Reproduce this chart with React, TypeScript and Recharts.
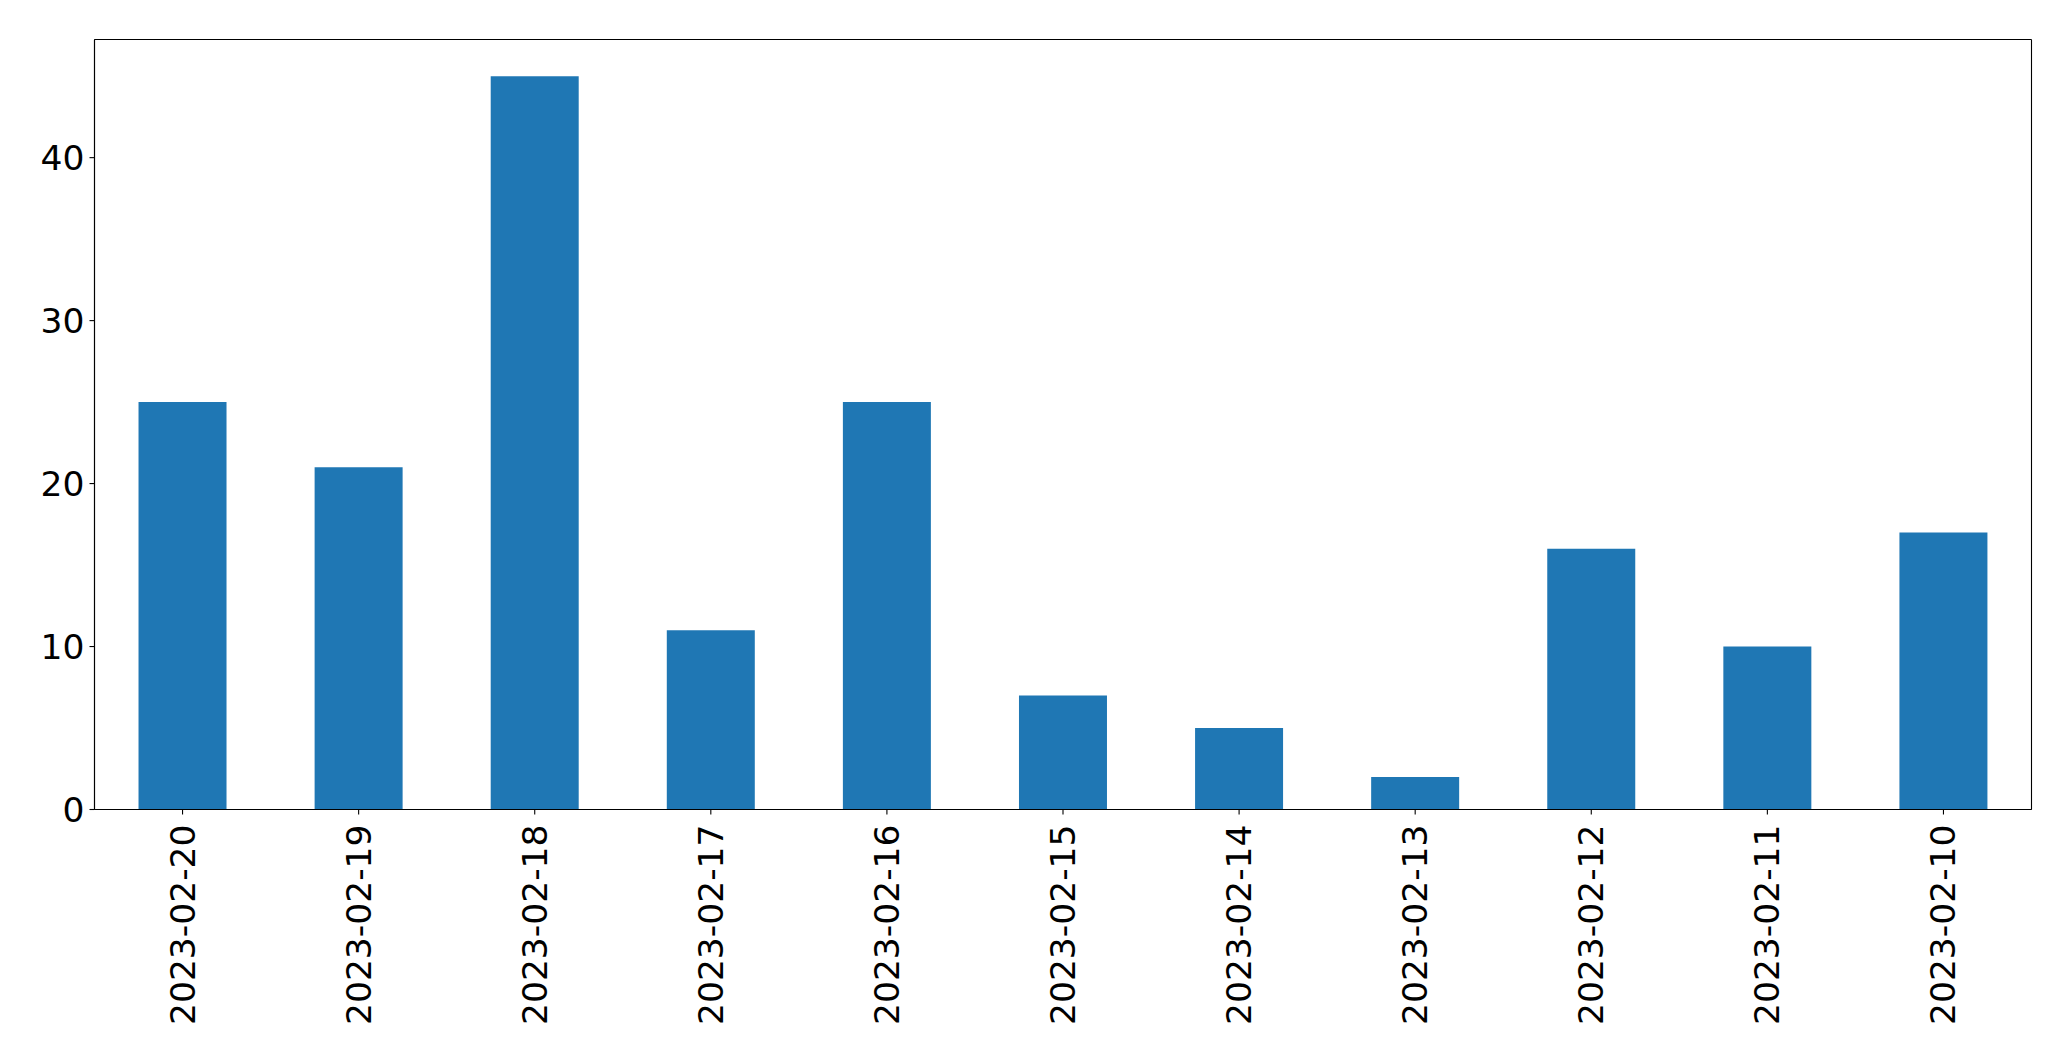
import React from "react";
import { BarChart, Bar, XAxis, YAxis, CartesianGrid } from "recharts";

const categories = [
  "2023-02-20", "2023-02-19", "2023-02-18", "2023-02-17", "2023-02-16", "2023-02-15",
  "2023-02-14", "2023-02-13", "2023-02-12", "2023-02-11", "2023-02-10",
];
const counts = [25, 21, 45, 11, 25, 7, 5, 2, 16, 10, 17];
const yTicks = [0, 10, 20, 30, 40];

const data = categories.map((c, i) => ({ date: c, count: counts[i] }));

const FONT = "DejaVu Sans";
const FS = 34.5;

const XTick = (props: any) => {
  const { x, y, payload } = props;
  return (
    <text
      x={0}
      y={0}
      transform={`translate(${x},${y + 8}) rotate(-90)`}
      textAnchor="end"
      dominantBaseline="central"
      fontFamily={FONT}
      fontSize={FS}
      fill="#000"
    >
      {payload.value}
    </text>
  );
};

const hFrame = (p: any) => {
  const o = p.offset;
  return [o.top, o.top + o.height];
};
const vFrame = (p: any) => {
  const o = p.offset;
  return [o.left, o.left + o.width];
};

export default function App() {
  return (
    <div style={{ position: "absolute", left: 0, top: 0, background: "#fff" }}>
      <BarChart
        width={2071}
        height={1061}
        data={data}
        margin={{ top: 39.5, right: 39.5, bottom: 0, left: 0 }}
        barCategoryGap="25%"
      >
        <CartesianGrid
          stroke="#000"
          strokeWidth={1.1}
          fill="none"
          horizontalCoordinatesGenerator={hFrame}
          verticalCoordinatesGenerator={vFrame}
        />
        <XAxis
          dataKey="date"
          height={251.5}
          tick={<XTick />}
          tickSize={5}
          tickLine={{ stroke: "#000", strokeWidth: 1.1 }}
          axisLine={{ stroke: "#000", strokeWidth: 1.1 }}
          interval={0}
        />
        <YAxis
          width={94.5}
          domain={[0, 47.25]}
          ticks={yTicks}
          tickSize={5}
          tickMargin={5}
          tick={{ fontFamily: FONT, fontSize: FS, fill: "#000" }}
          tickLine={{ stroke: "#000", strokeWidth: 1.1 }}
          axisLine={{ stroke: "#000", strokeWidth: 1.1 }}
          allowDataOverflow
        />
        <Bar dataKey="count" fill="#1f77b4" isAnimationActive={false} />
      </BarChart>
    </div>
  );
}
